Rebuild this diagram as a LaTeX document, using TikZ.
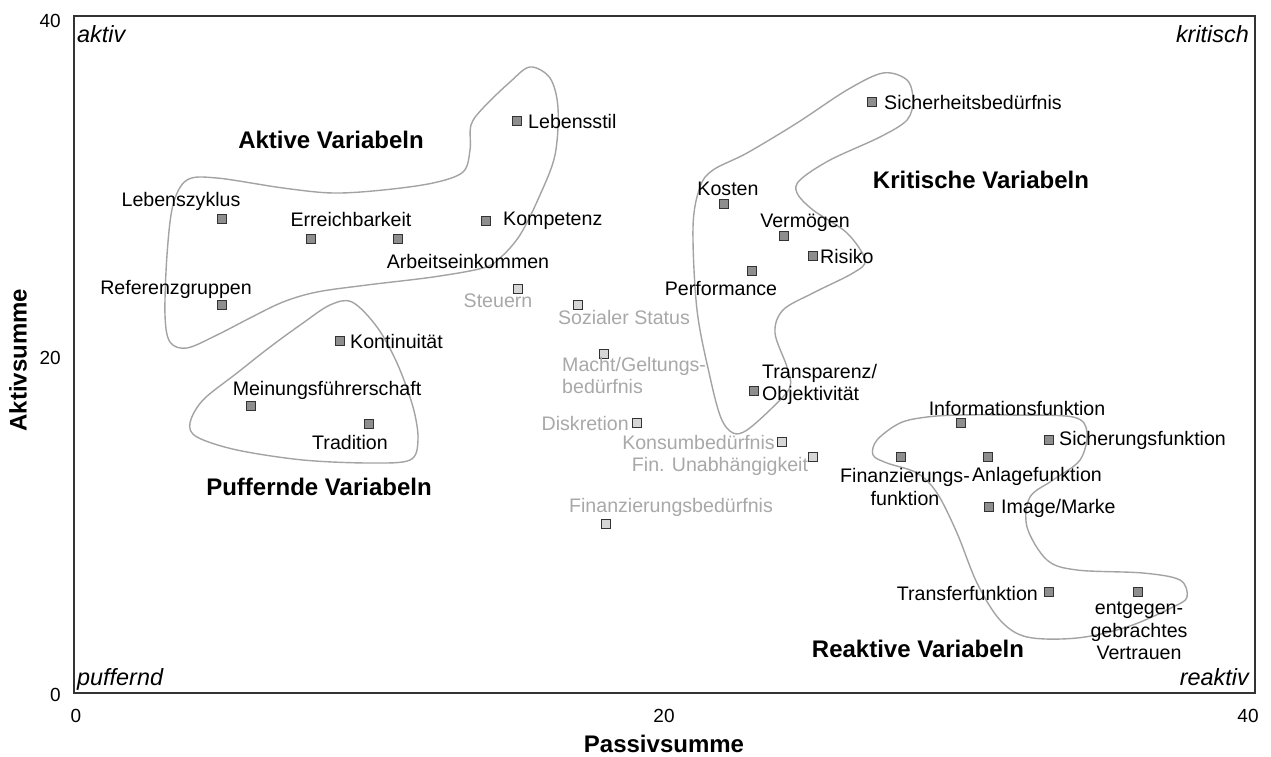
\documentclass[tikz,border=0pt]{standalone}
\usepackage{fontspec}
\setmainfont{Liberation Sans}
\definecolor{markdark}{HTML}{8E8E8E}
\definecolor{marklight}{HTML}{D6D6D6}
\definecolor{hullgray}{HTML}{A3A3A3}
\definecolor{faintgray}{HTML}{A8A8A8}
\begin{document}
\begin{tikzpicture}[x=1pt,y=-1pt,
  varbox/.style={draw=black!80,line width=1.2pt,fill=markdark,minimum size=9.6pt,inner sep=0pt},
  lightbox/.style={varbox,fill=marklight},
  lbl/.style={inner sep=0pt,font=\fontsize{19.6}{22.5}\selectfont},
  faint/.style={lbl,text=faintgray},
  grouptitle/.style={inner sep=0pt,font=\fontsize{24}{28}\selectfont\bfseries},
  corner/.style={inner sep=0pt,font=\fontsize{23.4}{27}\selectfont\itshape},
  tick/.style={inner sep=0pt,font=\fontsize{19}{22}\selectfont},
  axistitle/.style={inner sep=0pt,font=\fontsize{24}{28}\selectfont\bfseries},
  hull/.style={draw=hullgray,line width=1.4pt}]
\useasboundingbox (0,0) rectangle (1271,756);

% plot frame and axes
\draw[black!80,line width=1.5pt] (74,16) rectangle (1255,693);
\node[tick,anchor=east] (y40) at (61,21) {40};
\node[tick,anchor=east] (y20) at (61,358) {20};
\node[tick,anchor=east] (y0) at (61,695) {0};
\node[tick] (x0) at (76,716) {0};
\node[tick] (x20) at (664,716) {20};
\node[tick] (x40) at (1248,716) {40};
\node[axistitle] (xt) at (664,744) {Passivsumme};
\node[axistitle,rotate=90] (yt) at (18,360) {Aktivsumme};

% quadrant names
\node[corner,anchor=base west] (qa) at (77,42) {aktiv};
\node[corner,anchor=base east] (qk) at (1249,42) {kritisch};
\node[corner,anchor=base west] (qp) at (77,685) {puffernd};
\node[corner,anchor=base east] (qr) at (1249,685) {reaktiv};

% group hulls
\draw[hull] plot[smooth cycle,tension=0.55] coordinates {
  (187,180) (217,178) (283,188) (333,193) (383,190) (433,183) (463,172)
  (470,150) (471,125) (483,108) (510,82) (530,67) (550,78) (558,108)
  (555,155) (540,195) (520,235) (500,258) (483,268) (433,277) (367,285)
  (317,292) (283,302) (250,318) (217,335) (187,348) (170,342) (165,315)
  (167,255) (173,205)};
\draw[hull] plot[smooth cycle,tension=0.55] coordinates {
  (352,302) (330,305) (303,323) (270,347) (237,373) (203,400) (190,423)
  (197,437) (237,450) (303,460) (370,463) (410,460) (418,440) (413,407)
  (397,363) (377,327)};
\draw[hull] plot[smooth cycle,tension=0.55] coordinates {
  (883,73) (907,80) (913,100) (907,120) (880,137) (830,160) (800,180)
  (797,193) (813,210) (847,233) (865,260) (853,273) (813,293) (783,310)
  (775,333) (787,367) (790,387) (773,407) (747,430) (733,433) (721,418)
  (710,377) (697,310) (693,227) (700,187) (713,170) (747,153) (797,123)
  (847,90)};
\draw[hull] plot[smooth cycle,tension=0.55] coordinates {
  (960,415) (1010,415) (1073,417) (1087,432) (1080,460) (1053,480)
  (1030,497) (1027,527) (1047,560) (1077,570) (1143,573) (1180,580)
  (1187,597) (1173,607) (1127,627) (1077,638) (1027,637) (1000,620)
  (977,583) (957,533) (937,493) (917,473) (887,463) (873,455) (877,440)
  (900,423) (927,417)};

% group titles
\node[grouptitle] (ga) at (331,140) {Aktive Variabeln};
\node[grouptitle] (gk) at (981,180) {Kritische Variabeln};
\node[grouptitle] (gp) at (319,487) {Puffernde Variabeln};
\node[grouptitle] (gr) at (918,649) {Reaktive Variabeln};

% variables
\node[varbox] (ls) at (517,121) {};
\node[varbox] (lz) at (222,219) {};
\node[varbox] (er) at (311,239) {};
\node[varbox] (ae) at (398,239) {};
\node[varbox] (ko) at (486,221) {};
\node[varbox] (rg) at (222,305) {};
\node[lightbox] (st) at (518,289) {};
\node[lightbox] (ss) at (578,305) {};
\node[varbox] (kt) at (340,341) {};
\node[lightbox] (mg) at (604,354) {};
\node[varbox] (mf) at (251,406) {};
\node[varbox] (tr) at (369,424) {};
\node[varbox] (to) at (754,391) {};
\node[lightbox] (di) at (637,423) {};
\node[lightbox] (kb) at (782,442) {};
\node[lightbox] (fu) at (813,457) {};
\node[lightbox] (fb) at (606,524) {};
\node[varbox] (ks) at (724,204) {};
\node[varbox] (vm) at (784,236) {};
\node[varbox] (ri) at (813,256) {};
\node[varbox] (pf) at (752,271) {};
\node[varbox] (sb) at (872,102) {};
\node[varbox] (if) at (961,423) {};
\node[varbox] (sf) at (1049,440) {};
\node[varbox] (ff) at (901,457) {};
\node[varbox] (af) at (988,457) {};
\node[varbox] (im) at (989,507) {};
\node[varbox] (tf) at (1049,592) {};
\node[varbox] (ev) at (1138,592) {};

% variable names
\node[lbl,anchor=west] (lsT) at (528,121) {Lebensstil};
\node[lbl] (lzT) at (181,201) {Lebenszyklus};
\node[lbl] (erT) at (351,219) {Erreichbarkeit};
\node[lbl] (aeT) at (468,261) {Arbeitseinkommen};
\node[lbl,anchor=west] (koT) at (503,221) {Kompetenz};
\node[lbl] (rgT) at (176,289) {Referenzgruppen};
\node[faint] (stT) at (498,301) {Steuern};
\node[faint] (ssT) at (624,317) {Sozialer Status};
\node[lbl,anchor=west] (ktT) at (350,341) {Kontinuität};
\node[faint,anchor=north west,align=left] (mgT) at (562,357) {Macht/Geltungs-\\bedürfnis};
\node[lbl] (mfT) at (327,390) {Meinungsführerschaft};
\node[lbl] (trT) at (350,442) {Tradition};
\node[lbl,anchor=north west,align=left] (toT) at (762,364) {Transparenz/\\Objektivität};
\node[faint,anchor=east] (diT) at (629,423) {Diskretion};
\node[faint,anchor=east] (kbT) at (775,442) {Konsumbedürfnis};
\node[faint] (fuT) at (720,466) {Fin. Unabhängigkeit};
\node[faint] (fbT) at (671,507) {Finanzierungsbedürfnis};
\node[lbl] (ksT) at (728,189) {Kosten};
\node[lbl] (vmT) at (805,223) {Vermögen};
\node[lbl,anchor=west] (riT) at (820,256) {Risiko};
\node[lbl] (pfT) at (721,288) {Performance};
\node[lbl,anchor=west] (sbT) at (884,102) {Sicherheitsbedürfnis};
\node[lbl] (ifT) at (1017,408) {Informationsfunktion};
\node[lbl,anchor=west] (sfT) at (1059,440) {Sicherungsfunktion};
\node[lbl,align=center] (ffT) at (905,487) {Finanzierungs-\\funktion};
\node[lbl] (afT) at (1037,476) {Anlagefunktion};
\node[lbl,anchor=west] (imT) at (1001,508) {Image/Marke};
\node[lbl,anchor=east] (tfT) at (1038,593) {Transferfunktion};
\node[lbl,align=center] (evT) at (1139,631) {entgegen-\\gebrachtes\\Vertrauen};
\end{tikzpicture}
\end{document}
